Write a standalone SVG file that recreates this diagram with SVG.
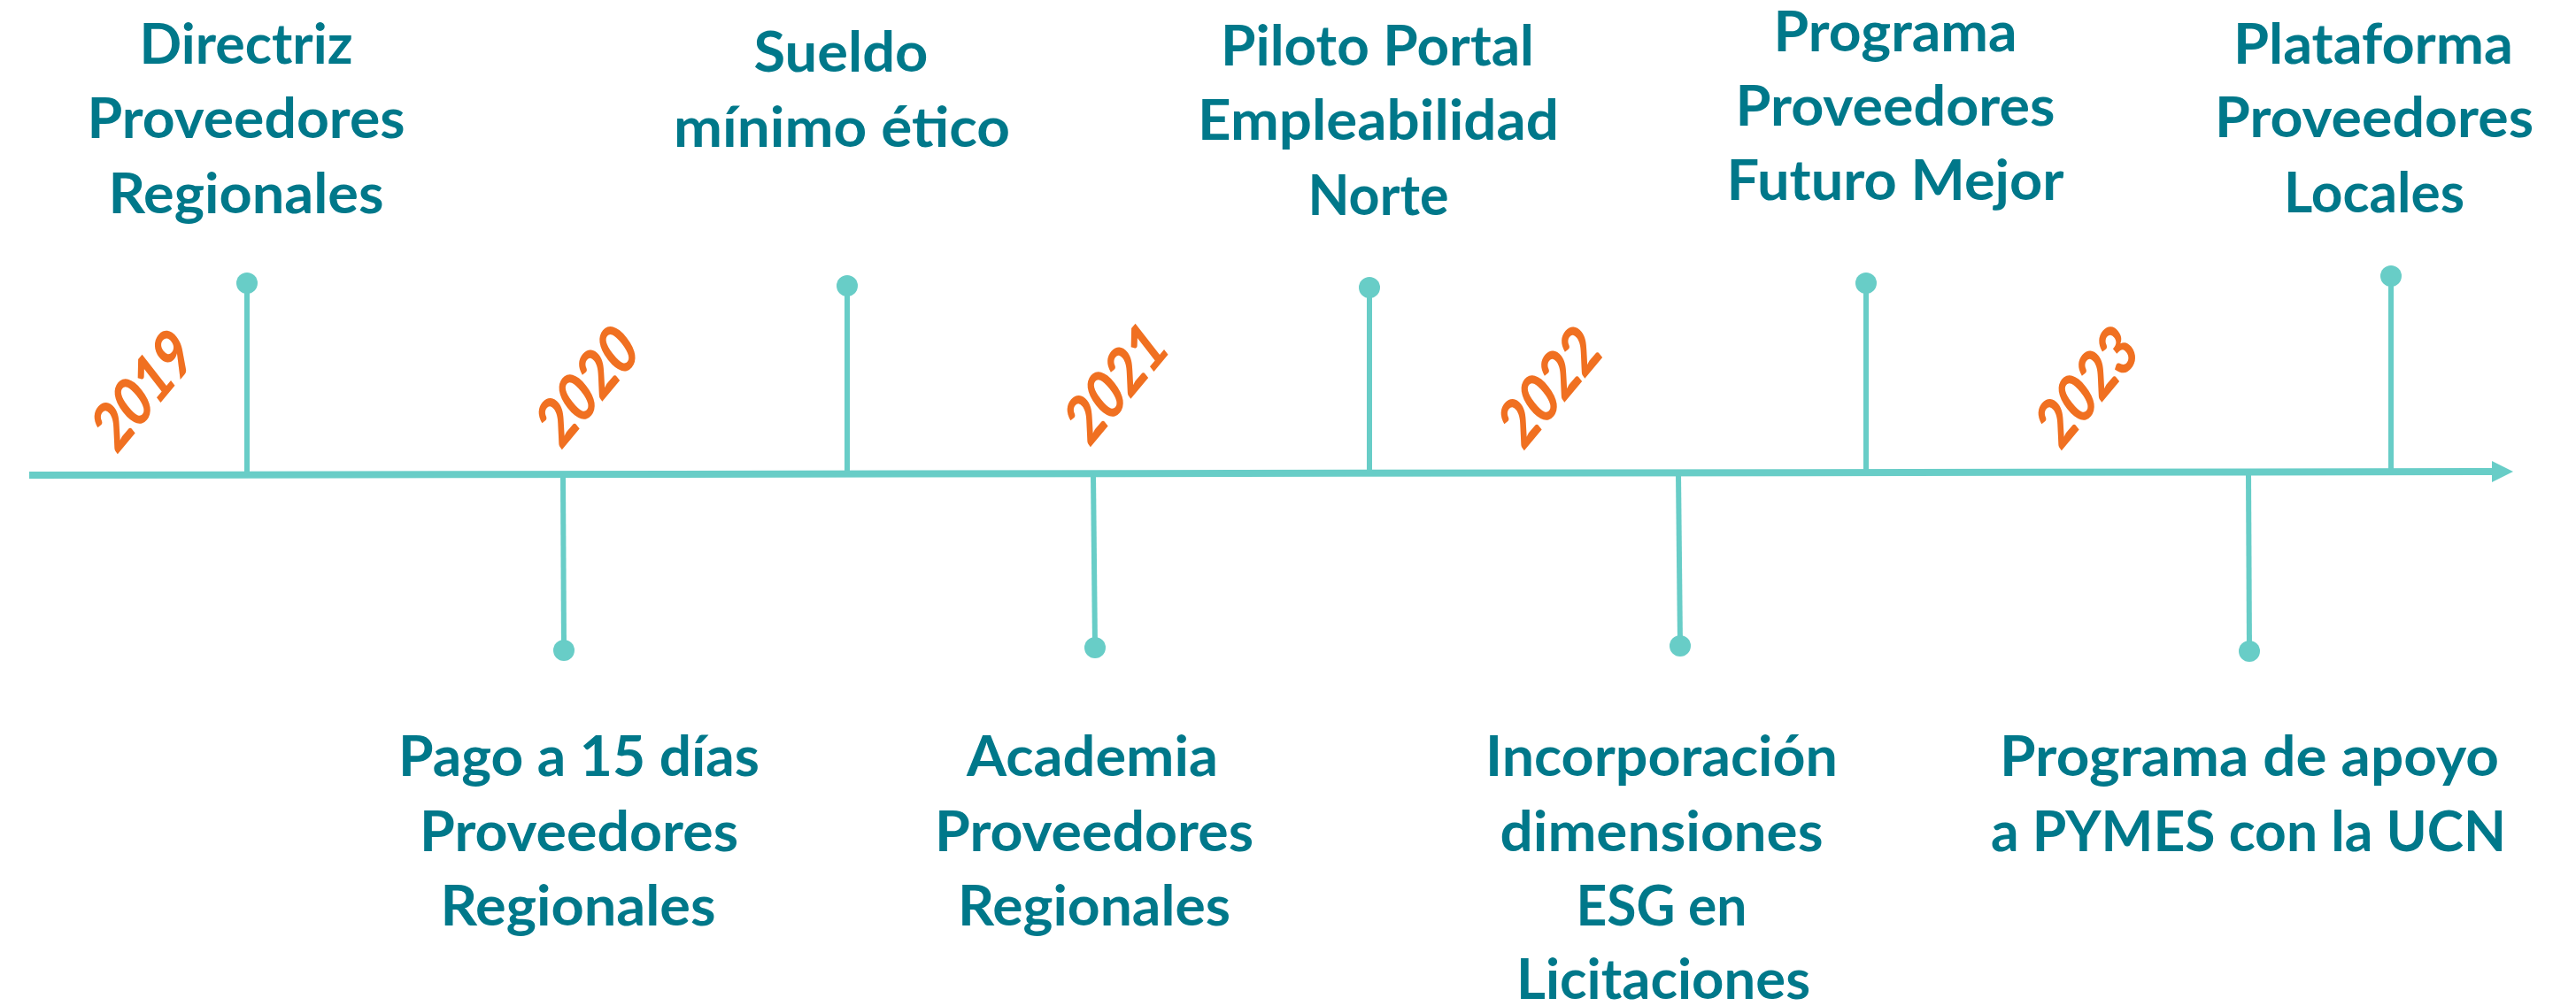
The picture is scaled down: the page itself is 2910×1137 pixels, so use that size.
<svg xmlns="http://www.w3.org/2000/svg" width="2910" height="1137" viewBox="0 0 2910 1137">
<style>
.t{font-family:Lato,"Open Sans","Liberation Sans",sans-serif;font-weight:700;font-size:63px;fill:#00788A;text-anchor:middle}
.y{font-family:Lato,"Open Sans","Liberation Sans",sans-serif;font-weight:900;font-size:70px;fill:#F07021;text-anchor:middle}
.ax{stroke:#68CDC7;stroke-width:8;fill:none}
.st{stroke:#68CDC7;stroke-width:6;fill:none}
.dot{fill:#68CDC7}
</style>
<rect width="2910" height="1137" fill="#FFFFFF"/>
<g id="connectors">
<line class="ax" x1="33" y1="537" x2="2818" y2="533"/>
<polygon class="dot" points="2815,521 2839,533 2815,545"/>
<line class="st" x1="279" y1="320" x2="279" y2="536"/>
<circle class="dot" cx="279" cy="320" r="12"/>
<line class="st" x1="957" y1="323" x2="957" y2="536"/>
<circle class="dot" cx="957" cy="323" r="12"/>
<line class="st" x1="1547" y1="325" x2="1547" y2="538"/>
<circle class="dot" cx="1547" cy="325" r="12"/>
<line class="st" x1="2108" y1="320" x2="2108" y2="534"/>
<circle class="dot" cx="2108" cy="320" r="12"/>
<line class="st" x1="2701" y1="312" x2="2701" y2="534"/>
<circle class="dot" cx="2701" cy="312" r="12"/>
<line class="st" x1="636" y1="536" x2="637" y2="735"/>
<circle class="dot" cx="637" cy="735" r="12"/>
<line class="st" x1="1235" y1="536" x2="1237" y2="732"/>
<circle class="dot" cx="1237" cy="732" r="12"/>
<line class="st" x1="1896" y1="535" x2="1898" y2="730"/>
<circle class="dot" cx="1898" cy="730" r="12"/>
<line class="st" x1="2540" y1="534" x2="2541" y2="736"/>
<circle class="dot" cx="2541" cy="736" r="12"/>
</g>
<g id="year-2019"><text class="y" transform="translate(162,441) rotate(-50) skewX(-12)" y="24" textLength="142" lengthAdjust="spacingAndGlyphs">2019</text></g>
<g id="year-2020"><text class="y" transform="translate(664,436) rotate(-50) skewX(-12)" y="24" textLength="142" lengthAdjust="spacingAndGlyphs">2020</text></g>
<g id="year-2021"><text class="y" transform="translate(1261,433) rotate(-50) skewX(-12)" y="24" textLength="142" lengthAdjust="spacingAndGlyphs">2021</text></g>
<g id="year-2022"><text class="y" transform="translate(1751,437) rotate(-50) skewX(-12)" y="24" textLength="142" lengthAdjust="spacingAndGlyphs">2022</text></g>
<g id="year-2023"><text class="y" transform="translate(2358,437) rotate(-50) skewX(-12)" y="24" textLength="142" lengthAdjust="spacingAndGlyphs">2023</text></g>
<g id="node-directriz">
<text class="t" x="278" y="72" textLength="241" lengthAdjust="spacingAndGlyphs">Directriz</text>
<text class="t" x="278" y="156" textLength="359" lengthAdjust="spacingAndGlyphs">Proveedores</text>
<text class="t" x="278" y="241" textLength="311" lengthAdjust="spacingAndGlyphs">Regionales</text>
</g>
<g id="node-sueldo">
<text class="t" x="950" y="81" textLength="197" lengthAdjust="spacingAndGlyphs">Sueldo</text>
<text class="t" x="951" y="166" textLength="380" lengthAdjust="spacingAndGlyphs">mínimo ético</text>
</g>
<g id="node-piloto">
<text class="t" x="1556" y="74" textLength="354" lengthAdjust="spacingAndGlyphs">Piloto Portal</text>
<text class="t" x="1557" y="158" textLength="408" lengthAdjust="spacingAndGlyphs">Empleabilidad</text>
<text class="t" x="1557" y="243" textLength="159" lengthAdjust="spacingAndGlyphs">Norte</text>
</g>
<g id="node-programa-futuro">
<text class="t" x="2141" y="58" textLength="275" lengthAdjust="spacingAndGlyphs">Programa</text>
<text class="t" x="2141" y="142" textLength="361" lengthAdjust="spacingAndGlyphs">Proveedores</text>
<text class="t" x="2141" y="226" textLength="381" lengthAdjust="spacingAndGlyphs">Futuro Mejor</text>
</g>
<g id="node-plataforma">
<text class="t" x="2681" y="72" textLength="316" lengthAdjust="spacingAndGlyphs">Plataforma</text>
<text class="t" x="2682" y="155" textLength="360" lengthAdjust="spacingAndGlyphs">Proveedores</text>
<text class="t" x="2682" y="240" textLength="204" lengthAdjust="spacingAndGlyphs">Locales</text>
</g>
<g id="node-pago">
<text class="t" x="654" y="877" textLength="408" lengthAdjust="spacingAndGlyphs">Pago a 15 días</text>
<text class="t" x="654" y="962" textLength="360" lengthAdjust="spacingAndGlyphs">Proveedores</text>
<text class="t" x="653" y="1046" textLength="311" lengthAdjust="spacingAndGlyphs">Regionales</text>
</g>
<g id="node-academia">
<text class="t" x="1234" y="877" textLength="284" lengthAdjust="spacingAndGlyphs">Academia</text>
<text class="t" x="1236" y="962" textLength="360" lengthAdjust="spacingAndGlyphs">Proveedores</text>
<text class="t" x="1236" y="1046" textLength="308" lengthAdjust="spacingAndGlyphs">Regionales</text>
</g>
<g id="node-incorporacion">
<text class="t" x="1877" y="877" textLength="398" lengthAdjust="spacingAndGlyphs">Incorporación</text>
<text class="t" x="1877" y="962" textLength="365" lengthAdjust="spacingAndGlyphs">dimensiones</text>
<text class="t" x="1877" y="1046" textLength="193" lengthAdjust="spacingAndGlyphs">ESG en</text>
<text class="t" x="1879" y="1129" textLength="332" lengthAdjust="spacingAndGlyphs">Licitaciones</text>
</g>
<g id="node-pymes">
<text class="t" x="2541" y="877" textLength="564" lengthAdjust="spacingAndGlyphs">Programa de apoyo</text>
<text class="t" x="2540" y="962" textLength="582" lengthAdjust="spacingAndGlyphs">a PYMES con la UCN</text>
</g>
</svg>
